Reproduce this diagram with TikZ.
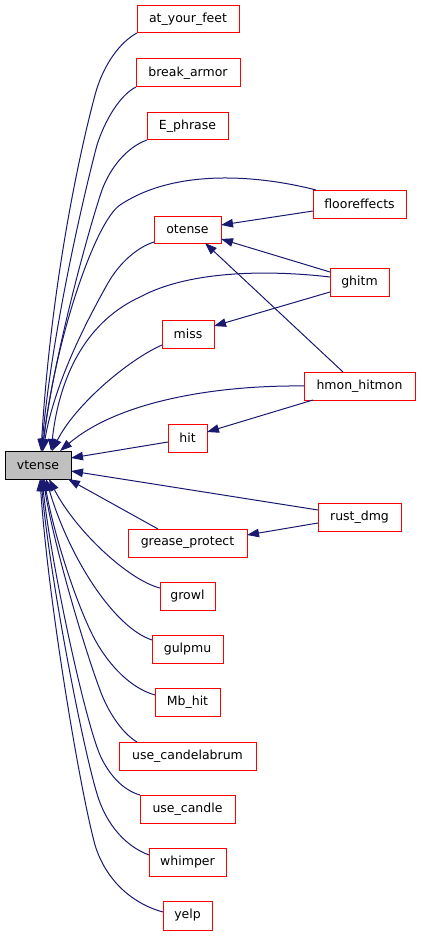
\documentclass[tikz,border=0pt]{standalone}
\usepackage{fontspec}
\setmainfont{DejaVu Sans}
\usetikzlibrary{arrows.meta,calc}
\definecolor{edgeblue}{HTML}{191970}
\definecolor{boxred}{HTML}{FF0000}
\definecolor{boxgray}{HTML}{BFBFBF}
\begin{document}
\begin{tikzpicture}[x=1pt,y=-1pt,
  fn/.style={draw=boxred,line width=1pt,fill=white,inner sep=0pt,outer sep=0pt,minimum height=28pt,font=\fontsize{12.5}{15}\selectfont},
  mainfn/.style={fn,draw=black,fill=boxgray},
  call/.style={draw=edgeblue,line width=1pt,-{Triangle[length=12pt,width=8.5pt]}}]
\useasboundingbox (0,0) rectangle (421,936);
% nodes
\node[fn,minimum width=102pt,minimum height=27pt] (atf) at (188,19.5) {at\_your\_feet};
\node[fn,minimum width=104pt] (bra) at (188,73) {break\_armor};
\node[fn,minimum width=81pt,minimum height=27pt] (eph) at (187.5,126.5) {E\_phrase};
\node[fn,minimum width=93pt] (flo) at (359.5,204) {flooreffects};
\node[fn,minimum width=67pt,minimum height=27pt] (ote) at (187.5,229.5) {otense};
\node[fn,minimum width=59pt] (ghi) at (359.5,282) {ghitm};
\node[fn,minimum width=52pt] (mis) at (188,334) {miss};
\node[fn,minimum width=111pt] (hmo) at (359.5,386) {hmon\_hitmon};
\node[fn,minimum width=39pt] (hit) at (187.5,438) {hit};
\node[mainfn,minimum width=66pt] (vt) at (38,465) {vtense};
\node[fn,minimum width=83pt] (rus) at (359.5,517) {rust\_dmg};
\node[fn,minimum width=119pt] (gre) at (187.5,543) {grease\_protect};
\node[fn,minimum width=55pt] (gro) at (187.5,596) {growl};
\node[fn,minimum width=71pt] (gul) at (187.5,649) {gulpmu};
\node[fn,minimum width=65pt] (mbh) at (187.5,702) {Mb\_hit};
\node[fn,minimum width=137pt] (uca) at (187.5,756) {use\_candelabrum};
\node[fn,minimum width=95pt] (ucd) at (187.5,809) {use\_candle};
\node[fn,minimum width=77pt] (whi) at (187.5,862) {whimper};
\node[fn,minimum width=49pt,minimum height=29pt] (yel) at (187.5,915.5) {yelp};
% upper callers of vtense
\draw[call] (atf.south west) .. controls (120,42) and (103,65) .. (95,95)
  .. controls (75,170) and (50,300) .. ($(vt.north)+(3,0)$);
\draw[call] (bra.south west) .. controls (120,95) and (105,120) .. (97,145)
  .. controls (85,190) and (52,330) .. ($(vt.north)+(3.5,0)$);
\draw[call] (eph.south west) .. controls (127,147) and (110,168) .. (102,190)
  .. controls (90,225) and (55,350) .. ($(vt.north)+(4,0)$);
\draw[call] ($(flo.north west)+(3,0)$) .. controls (270,178) and (180,165) .. (120,205)
  .. controls (95,222) and (55,340) .. ($(vt.north)+(4.5,0)$);
\draw[call] ($(ote.south west)+(0,-1)$) .. controls (138,247) and (120,262) .. (108,283)
  .. controls (90,315) and (55,380) .. ($(vt.north)+(5,0)$);
\draw[call] ($(ghi.west)+(0,-5)$) .. controls (270,270) and (190,270) .. (140,297)
  .. controls (90,320) and (60,370) .. ($(vt.north)+(13,0)$);
\draw[call] ($(mis.south west)+(0,-3)$) .. controls (128,360) and (75,405) .. ($(vt.north)+(14,0)$);
\draw[call] (hmo.west) .. controls (220,385) and (120,400) .. ($(vt.north)+(22,0)$);
% straight callers
\draw[call] ($(hit.west)+(0,4)$) -- ($(vt.east)+(0,-7)$);
\draw[call] ($(rus.west)+(0,-7)$) -- ($(vt.east)+(0,6)$);
\draw[call] ($(gre.north)+(-29.5,0)$) -- ($(vt.south east)+(-3,0)$);
% calls between callers
\draw[call] ($(flo.west)+(0,7)$) -- ($(ote.east)+(0,-4.5)$);
\draw[call] ($(ghi.west)+(0,-10)$) -- ($(ote.south east)+(0,-4)$);
\draw[call] ($(ghi.west)+(0,10)$) -- ($(mis.east)+(0,-8)$);
\draw[call] ($(hmo.north)+(-16.5,0)$) -- ($(ote.south)+(17.5,0)$);
\draw[call] ($(hmo.south west)+(9,0)$) -- ($(hit.east)+(0,-6)$);
\draw[call] ($(rus.west)+(0,6)$) -- ($(gre.east)+(0,-8)$);
% lower callers of vtense
\draw[call] ($(gro.west)+(0,-8)$) .. controls (128,580) and (75,530) .. ($(vt.south)+(11,0)$);
\draw[call] ($(gul.west)+(0,-9)$) .. controls (115,628) and (70,560) .. ($(vt.south)+(8,0)$);
\draw[call] ($(mbh.west)+(0,-7)$) .. controls (130,688) and (110,665) .. (98,645)
  .. controls (80,615) and (55,540) .. ($(vt.south)+(6,0)$);
\draw[call] ($(uca.north west)+(18,0)$) .. controls (122,733) and (108,712) .. (100,690)
  .. controls (85,650) and (55,550) .. ($(vt.south)+(5,0)$);
\draw[call] (ucd.north west) .. controls (122,790) and (108,773) .. (100,755)
  .. controls (85,720) and (52,570) .. ($(vt.south)+(4,0)$);
\draw[call] ($(whi.west)+(0,-7)$) .. controls (125,846) and (108,825) .. (99,800)
  .. controls (85,760) and (50,580) .. ($(vt.south)+(3,0)$);
\draw[call] ($(yel.west)+(0,-3.5)$) .. controls (130,903) and (105,878) .. (95,845)
  .. controls (80,790) and (48,600) .. ($(vt.south)+(2,0)$);
\end{tikzpicture}
\end{document}
